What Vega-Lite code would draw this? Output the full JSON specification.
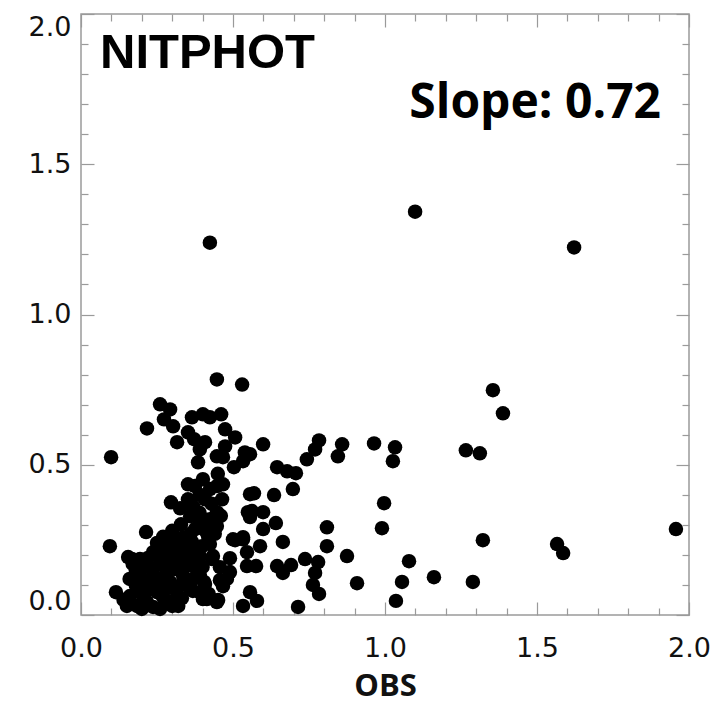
{
  "$schema": "https://vega.github.io/schema/vega-lite/v6.json",
  "autosize": {"type": "none"},
  "padding": {"left": 81, "top": 14, "right": 33, "bottom": 88},
  "width": 608,
  "height": 601,
  "background": "white",
  "config": {
    "view": {"stroke": "#9a9a9a", "strokeWidth": 1.5},
    "axis": {"grid": false, "domain": false, "tickColor": "#9a9a9a", "tickWidth": 1.2}
  },
  "datasets": {
    "points": [
      {"obs": 0.424, "model": 1.239}, {"obs": 1.099, "model": 1.342}, {"obs": 1.622, "model": 1.223},
      {"obs": 0.099, "model": 0.525}, {"obs": 0.095, "model": 0.229}, {"obs": 0.447, "model": 0.784},
      {"obs": 0.530, "model": 0.767}, {"obs": 1.355, "model": 0.748}, {"obs": 1.388, "model": 0.671},
      {"obs": 0.964, "model": 0.571}, {"obs": 1.033, "model": 0.558}, {"obs": 1.026, "model": 0.512},
      {"obs": 1.266, "model": 0.548}, {"obs": 1.312, "model": 0.538}, {"obs": 0.997, "model": 0.372},
      {"obs": 0.990, "model": 0.289}, {"obs": 1.322, "model": 0.249}, {"obs": 1.566, "model": 0.236},
      {"obs": 1.586, "model": 0.206}, {"obs": 1.957, "model": 0.286}, {"obs": 1.079, "model": 0.179},
      {"obs": 1.056, "model": 0.110}, {"obs": 1.161, "model": 0.126}, {"obs": 1.289, "model": 0.110},
      {"obs": 1.036, "model": 0.047}, {"obs": 0.908, "model": 0.106}, {"obs": 0.875, "model": 0.196},
      {"obs": 0.809, "model": 0.292}, {"obs": 0.809, "model": 0.229}, {"obs": 0.783, "model": 0.581},
      {"obs": 0.770, "model": 0.551}, {"obs": 0.743, "model": 0.518}, {"obs": 0.859, "model": 0.568},
      {"obs": 0.845, "model": 0.528}, {"obs": 0.645, "model": 0.492}, {"obs": 0.678, "model": 0.478},
      {"obs": 0.707, "model": 0.472}, {"obs": 0.697, "model": 0.419}, {"obs": 0.635, "model": 0.399},
      {"obs": 0.569, "model": 0.405}, {"obs": 0.599, "model": 0.568}, {"obs": 0.556, "model": 0.535},
      {"obs": 0.533, "model": 0.512}, {"obs": 0.562, "model": 0.346}, {"obs": 0.599, "model": 0.342},
      {"obs": 0.556, "model": 0.326}, {"obs": 0.641, "model": 0.306}, {"obs": 0.599, "model": 0.286},
      {"obs": 0.533, "model": 0.259}, {"obs": 0.664, "model": 0.243}, {"obs": 0.589, "model": 0.229},
      {"obs": 0.546, "model": 0.209}, {"obs": 0.546, "model": 0.163}, {"obs": 0.576, "model": 0.163},
      {"obs": 0.645, "model": 0.163}, {"obs": 0.664, "model": 0.140}, {"obs": 0.691, "model": 0.166},
      {"obs": 0.737, "model": 0.186}, {"obs": 0.780, "model": 0.176}, {"obs": 0.770, "model": 0.140},
      {"obs": 0.763, "model": 0.100}, {"obs": 0.783, "model": 0.070}, {"obs": 0.714, "model": 0.027},
      {"obs": 0.556, "model": 0.076}, {"obs": 0.579, "model": 0.047}, {"obs": 0.533, "model": 0.030},
      {"obs": 0.490, "model": 0.143}, {"obs": 0.457, "model": 0.116}, {"obs": 0.451, "model": 0.050},
      {"obs": 0.405, "model": 0.110}, {"obs": 0.401, "model": 0.053}, {"obs": 0.368, "model": 0.080},
      {"obs": 0.332, "model": 0.056}, {"obs": 0.115, "model": 0.076}, {"obs": 0.214, "model": 0.276},
      {"obs": 0.217, "model": 0.621}, {"obs": 0.155, "model": 0.193}, {"obs": 0.260, "model": 0.701},
      {"obs": 0.293, "model": 0.684}, {"obs": 0.273, "model": 0.651}, {"obs": 0.303, "model": 0.628},
      {"obs": 0.316, "model": 0.575}, {"obs": 0.365, "model": 0.658}, {"obs": 0.401, "model": 0.668},
      {"obs": 0.424, "model": 0.658}, {"obs": 0.461, "model": 0.668}, {"obs": 0.352, "model": 0.608},
      {"obs": 0.372, "model": 0.585}, {"obs": 0.408, "model": 0.575}, {"obs": 0.391, "model": 0.551},
      {"obs": 0.385, "model": 0.508}, {"obs": 0.474, "model": 0.618}, {"obs": 0.507, "model": 0.591},
      {"obs": 0.474, "model": 0.561}, {"obs": 0.447, "model": 0.528}, {"obs": 0.467, "model": 0.525},
      {"obs": 0.539, "model": 0.541}, {"obs": 0.503, "model": 0.492}, {"obs": 0.352, "model": 0.435},
      {"obs": 0.401, "model": 0.452}, {"obs": 0.467, "model": 0.435}, {"obs": 0.375, "model": 0.429},
      {"obs": 0.447, "model": 0.429}, {"obs": 0.352, "model": 0.385}, {"obs": 0.464, "model": 0.385},
      {"obs": 0.359, "model": 0.329}, {"obs": 0.447, "model": 0.342}, {"obs": 0.391, "model": 0.309},
      {"obs": 0.447, "model": 0.296}, {"obs": 0.418, "model": 0.262}, {"obs": 0.500, "model": 0.252},
      {"obs": 0.556, "model": 0.402}, {"obs": 0.549, "model": 0.342}, {"obs": 0.296, "model": 0.375},
      {"obs": 0.168, "model": 0.186}, {"obs": 0.194, "model": 0.143}, {"obs": 0.237, "model": 0.209},
      {"obs": 0.270, "model": 0.229}, {"obs": 0.303, "model": 0.252}, {"obs": 0.336, "model": 0.259},
      {"obs": 0.365, "model": 0.243}, {"obs": 0.398, "model": 0.229}, {"obs": 0.319, "model": 0.209},
      {"obs": 0.283, "model": 0.176}, {"obs": 0.237, "model": 0.153}, {"obs": 0.204, "model": 0.110},
      {"obs": 0.161, "model": 0.063}, {"obs": 0.151, "model": 0.030}, {"obs": 0.184, "model": 0.030},
      {"obs": 0.217, "model": 0.043}, {"obs": 0.250, "model": 0.076}, {"obs": 0.293, "model": 0.110},
      {"obs": 0.336, "model": 0.130}, {"obs": 0.368, "model": 0.163}, {"obs": 0.391, "model": 0.196},
      {"obs": 0.309, "model": 0.153}, {"obs": 0.260, "model": 0.120}, {"obs": 0.359, "model": 0.086},
      {"obs": 0.316, "model": 0.063}, {"obs": 0.283, "model": 0.043}, {"obs": 0.237, "model": 0.027},
      {"obs": 0.408, "model": 0.103}, {"obs": 0.447, "model": 0.043}, {"obs": 0.414, "model": 0.053},
      {"obs": 0.391, "model": 0.076}, {"obs": 0.434, "model": 0.196}, {"obs": 0.457, "model": 0.159},
      {"obs": 0.480, "model": 0.120}, {"obs": 0.467, "model": 0.096}, {"obs": 0.431, "model": 0.186},
      {"obs": 0.490, "model": 0.189}, {"obs": 0.507, "model": 0.249}, {"obs": 0.533, "model": 0.252},
      {"obs": 0.329, "model": 0.302}, {"obs": 0.326, "model": 0.355}, {"obs": 0.375, "model": 0.286},
      {"obs": 0.424, "model": 0.319}, {"obs": 0.408, "model": 0.385}, {"obs": 0.424, "model": 0.419},
      {"obs": 0.194, "model": 0.186}, {"obs": 0.227, "model": 0.086}, {"obs": 0.326, "model": 0.169},
      {"obs": 0.276, "model": 0.086}, {"obs": 0.342, "model": 0.203}, {"obs": 0.424, "model": 0.236},
      {"obs": 0.391, "model": 0.133},
      {"obs": 0.180, "model": 0.100}, {"obs": 0.200, "model": 0.070}, {"obs": 0.230, "model": 0.120},
      {"obs": 0.260, "model": 0.170}, {"obs": 0.290, "model": 0.200}, {"obs": 0.310, "model": 0.230},
      {"obs": 0.340, "model": 0.230}, {"obs": 0.270, "model": 0.260}, {"obs": 0.220, "model": 0.190},
      {"obs": 0.180, "model": 0.150}, {"obs": 0.160, "model": 0.120}, {"obs": 0.140, "model": 0.050},
      {"obs": 0.200, "model": 0.020}, {"obs": 0.260, "model": 0.020}, {"obs": 0.300, "model": 0.090},
      {"obs": 0.330, "model": 0.100}, {"obs": 0.350, "model": 0.190}, {"obs": 0.370, "model": 0.360},
      {"obs": 0.390, "model": 0.400}, {"obs": 0.430, "model": 0.370}, {"obs": 0.460, "model": 0.330},
      {"obs": 0.440, "model": 0.270}, {"obs": 0.410, "model": 0.280}, {"obs": 0.360, "model": 0.270},
      {"obs": 0.390, "model": 0.340}, {"obs": 0.450, "model": 0.470},
      {"obs": 0.170, "model": 0.170}, {"obs": 0.210, "model": 0.160}, {"obs": 0.250, "model": 0.200},
      {"obs": 0.280, "model": 0.140}, {"obs": 0.310, "model": 0.180}, {"obs": 0.340, "model": 0.160},
      {"obs": 0.240, "model": 0.100}, {"obs": 0.270, "model": 0.060}, {"obs": 0.210, "model": 0.050},
      {"obs": 0.300, "model": 0.030}, {"obs": 0.320, "model": 0.030}, {"obs": 0.370, "model": 0.120},
      {"obs": 0.400, "model": 0.160}, {"obs": 0.360, "model": 0.220}, {"obs": 0.300, "model": 0.280},
      {"obs": 0.250, "model": 0.240}, {"obs": 0.420, "model": 0.070}
    ],
    "labels": [
      {"obs": 0.0625, "model": 1.821, "text": "NITPHOT", "kind": "name"},
      {"obs": 1.908, "model": 1.654, "text": "Slope: 0.72", "kind": "slope"}
    ]
  },
  "resolve": {"axis": {"x": "independent", "y": "independent"}},
  "layer": [
    {
      "data": {"name": "points"},
      "mark": {"type": "circle", "size": 210, "color": "black", "opacity": 1, "clip": false},
      "encoding": {
        "x": {
          "field": "obs", "type": "quantitative",
          "scale": {"domain": [0, 2], "nice": false, "zero": false},
          "axis": {
            "orient": "bottom", "values": [0, 0.5, 1, 1.5, 2], "format": ".1f",
            "ticks": false, "labelPadding": 20, "labelFlush": false, "labelFont": "DejaVu Sans", "labelFontSize": 27,
            "labelColor": "#111", "title": "OBS", "titleFont": "Open Sans", "titleFontWeight": "bold",
            "titleFontSize": 31, "titleColor": "#111", "titlePadding": 10
          }
        },
        "y": {
          "field": "model", "type": "quantitative",
          "scale": {"domain": [0, 2], "nice": false, "zero": false},
          "axis": {
            "orient": "left", "values": [0, 0.5, 1, 1.5, 2], "format": ".1f",
            "ticks": false, "labelPadding": 10, "labelFont": "DejaVu Sans", "labelFontSize": 27,
            "labelColor": "#111", "labelFlush": true, "title": null
          }
        }
      }
    },
    {
      "data": {"name": "points"},
      "mark": {"type": "circle", "opacity": 0},
      "encoding": {
        "x": {"field": "obs", "type": "quantitative",
              "axis": {"orient": "bottom", "values": [0, 0.5, 1, 1.5, 2], "tickSize": -13, "labels": false, "title": null}},
        "y": {"field": "model", "type": "quantitative",
              "axis": {"orient": "left", "values": [0, 0.5, 1, 1.5, 2], "tickSize": -13, "labels": false, "title": null}}
      }
    },
    {
      "data": {"name": "points"},
      "mark": {"type": "circle", "opacity": 0},
      "encoding": {
        "x": {"field": "obs", "type": "quantitative",
              "axis": {"orient": "bottom", "values": [0.1, 0.2, 0.3, 0.4, 0.6, 0.7, 0.8, 0.9, 1.1, 1.2, 1.3, 1.4, 1.6, 1.7, 1.8, 1.9], "tickSize": -7, "labels": false, "title": null}},
        "y": {"field": "model", "type": "quantitative",
              "axis": {"orient": "left", "values": [0.1, 0.2, 0.3, 0.4, 0.6, 0.7, 0.8, 0.9, 1.1, 1.2, 1.3, 1.4, 1.6, 1.7, 1.8, 1.9], "tickSize": -7, "labels": false, "title": null}}
      }
    },
    {
      "data": {"name": "points"},
      "mark": {"type": "circle", "opacity": 0},
      "encoding": {
        "x": {"field": "obs", "type": "quantitative",
              "axis": {"orient": "top", "values": [0, 0.5, 1, 1.5, 2], "tickSize": -13, "labels": false, "title": null}},
        "y": {"field": "model", "type": "quantitative",
              "axis": {"orient": "right", "values": [0, 0.5, 1, 1.5, 2], "tickSize": -13, "labels": false, "title": null}}
      }
    },
    {
      "data": {"name": "points"},
      "mark": {"type": "circle", "opacity": 0},
      "encoding": {
        "x": {"field": "obs", "type": "quantitative",
              "axis": {"orient": "top", "values": [0.1, 0.2, 0.3, 0.4, 0.6, 0.7, 0.8, 0.9, 1.1, 1.2, 1.3, 1.4, 1.6, 1.7, 1.8, 1.9], "tickSize": -7, "labels": false, "title": null}},
        "y": {"field": "model", "type": "quantitative",
              "axis": {"orient": "right", "values": [0.1, 0.2, 0.3, 0.4, 0.6, 0.7, 0.8, 0.9, 1.1, 1.2, 1.3, 1.4, 1.6, 1.7, 1.8, 1.9], "tickSize": -7, "labels": false, "title": null}}
      }
    },
    {
      "data": {"name": "labels"},
      "transform": [{"filter": "datum.kind === 'name'"}],
      "mark": {"type": "text", "align": "left", "baseline": "alphabetic", "font": "Liberation Sans", "fontWeight": "bold", "fontSize": 49, "color": "black"},
      "encoding": {
        "x": {"field": "obs", "type": "quantitative", "axis": null},
        "y": {"field": "model", "type": "quantitative", "axis": null},
        "text": {"field": "text"}
      }
    },
    {
      "data": {"name": "labels"},
      "transform": [{"filter": "datum.kind === 'slope'"}],
      "mark": {"type": "text", "align": "right", "baseline": "alphabetic", "font": "Open Sans", "fontWeight": "bold", "fontSize": 48, "color": "black"},
      "encoding": {
        "x": {"field": "obs", "type": "quantitative", "axis": null},
        "y": {"field": "model", "type": "quantitative", "axis": null},
        "text": {"field": "text"}
      }
    }
  ]
}
